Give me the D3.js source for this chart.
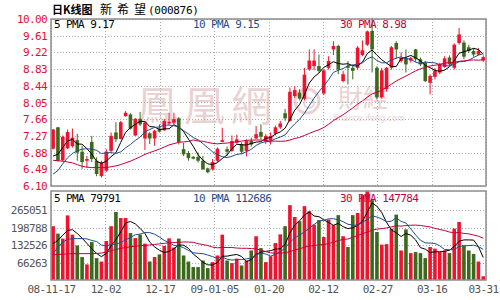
<!DOCTYPE html>
<html>
<head>
<meta charset="utf-8">
<script src="https://cdn.jsdelivr.net/npm/d3@7"></script>
<style>
body { margin: 0; background: #fff; }
svg text { font-family: "DejaVu Sans Mono", monospace; }
</style>
</head>
<body>
<script>
// trading days 2008-11-17 .. 2009-03-31
const dates = [
  '08-11-17','08-11-18','08-11-19','08-11-20','08-11-21','08-11-24','08-11-25','08-11-26','08-11-27','08-11-28',
  '08-12-01','08-12-02','08-12-03','08-12-04','08-12-05','08-12-08','08-12-09','08-12-10','08-12-11','08-12-12',
  '08-12-15','08-12-16','08-12-17','08-12-18','08-12-19','08-12-22','08-12-23','08-12-24','08-12-25','08-12-26',
  '08-12-29','08-12-30','08-12-31','09-01-05','09-01-06','09-01-07','09-01-08','09-01-09','09-01-12','09-01-13',
  '09-01-14','09-01-15','09-01-16','09-01-19','09-01-20','09-01-21','09-01-22','09-01-23','09-02-02','09-02-03',
  '09-02-04','09-02-05','09-02-06','09-02-09','09-02-10','09-02-11','09-02-12','09-02-13','09-02-16','09-02-17',
  '09-02-18','09-02-19','09-02-20','09-02-23','09-02-24','09-02-25','09-02-26','09-02-27','09-03-02','09-03-03',
  '09-03-04','09-03-05','09-03-06','09-03-09','09-03-10','09-03-11','09-03-12','09-03-13','09-03-16','09-03-17',
  '09-03-18','09-03-19','09-03-20','09-03-23','09-03-24','09-03-25','09-03-26','09-03-27','09-03-30','09-03-31'
]

const open = [6.97,7.47,6.70,6.98,7.03,7.17,6.90,6.69,7.13,6.69, 6.33,6.46,6.92,7.35,7.20,7.73,7.77,7.28,7.67,7.21,
  7.33,7.21,7.44,7.40,7.56,7.58,7.68,6.96,6.87,6.78, 6.78,6.69,6.51,6.49,6.69,7.13,6.96,6.92,7.11,7.08,
  6.92,7.15,7.21,7.36,7.14,7.17,7.32,7.47,7.80,7.62, 8.20,8.28,8.14,8.82,8.90,8.90,8.26,8.86,9.29,9.37,
  8.55,8.90,8.86,8.86,9.16,9.40,9.72,8.86,8.17,8.36, 8.86,9.44,9.02,9.09,9.03,9.29,9.06,8.98,8.51,8.65,
  8.75,8.88,9.10,8.86,9.44,9.45,9.34,9.25,9.17,9.03]
const high = [7.43,7.48,7.28,7.42,7.44,7.32,7.04,6.80,7.27,6.77, 6.69,6.96,7.35,7.59,7.62,7.85,7.80,7.69,7.83,7.62,
  7.36,7.41,7.54,7.67,7.81,7.81,7.71,7.11,6.92,6.80, 6.88,6.80,6.53,6.73,7.00,7.46,7.02,7.28,7.30,7.12,
  7.19,7.23,7.50,7.54,7.31,7.35,7.51,7.62,7.90,8.40, 8.43,8.36,8.86,9.29,9.29,9.17,8.83,9.13,9.48,9.40,
  8.79,9.02,8.94,9.37,9.50,9.73,10.03,8.90,8.86,8.88, 9.37,9.48,9.22,9.29,9.12,9.30,9.10,9.02,8.71,8.86,
  8.98,9.13,9.15,9.43,9.79,9.50,9.40,9.32,9.32,9.15]
const low = [6.95,6.67,6.67,6.96,7.00,6.69,6.50,6.53,6.66,6.33, 6.30,6.43,6.88,7.13,7.19,7.72,7.42,7.27,7.50,6.94,
  7.08,7.04,7.35,7.39,7.52,7.54,7.07,6.80,6.69,6.72, 6.65,6.48,6.40,6.46,6.66,7.12,6.80,6.90,7.09,6.84,
  6.79,7.02,7.19,7.19,7.08,7.07,7.28,7.43,7.62,7.60, 8.16,8.10,8.10,8.79,8.80,8.75,8.22,8.82,9.16,8.71,
  8.52,8.47,8.59,8.82,9.13,9.37,8.75,8.12,8.14,8.30, 8.82,9.07,8.98,8.75,8.98,9.00,8.90,8.53,8.24,8.59,
  8.71,8.86,8.90,8.82,9.40,9.06,9.21,9.12,9.15,9.00]
const close = [7.42,6.69,7.25,7.36,7.23,6.88,6.66,6.73,6.73,6.38, 6.65,6.90,7.27,7.19,7.59,7.81,7.44,7.67,7.54,7.58,
  7.21,7.39,7.37,7.62,7.60,7.66,7.13,6.84,6.75,6.74, 6.69,6.49,6.42,6.66,6.97,7.17,6.90,7.15,7.19,6.90,
  7.15,7.07,7.31,7.25,7.27,7.27,7.47,7.56,7.68,8.30, 8.34,8.14,8.70,9.03,9.03,8.79,8.80,9.02,9.37,8.82,
  8.71,8.86,8.79,9.33,9.27,9.71,9.29,8.17,8.80,8.86, 9.34,9.29,9.09,8.94,9.09,9.06,8.94,8.55,8.67,8.79,
  8.94,9.08,8.94,9.40,9.64,9.12,9.25,9.17,9.25,9.11]
// volume, in thousands
const volume = [204,176,157,245,172,131,87,59,144,83, 70,148,204,258,235,235,178,159,172,138,
  70,87,97,129,158,123,157,93,70,49, 49,74,45,68,93,172,74,64,81,55,
  74,112,166,121,68,90,140,173,204,284, 239,223,280,261,210,227,163,229,208,246,
  166,125,246,254,322,337,303,182,134,136, 195,248,112,192,102,106,102,83,125,119,
  106,112,102,195,220,131,112,99,70,14]

// moving-average values before a full window exists
const ma5Head = [6.80, 6.84, 7.00, 7.15]
const ma10Head = [6.38, 6.46, 6.62, 6.76, 6.86, 6.92, 6.96, 6.97, 6.96]
const ma30Head = [6.70,6.69,6.68,6.66,6.64,6.60,6.56,6.54,6.53,6.53,6.53,6.53,6.55,6.57,6.60,
  6.64,6.68,6.73,6.78,6.84,6.88,6.92,6.96,7.01,7.06,7.09,7.12,7.13,7.14]
const vma5Head = [138, 150, 170, 188]
const vma10Head = [100, 125, 144, 154, 157, 157, 157, 156, 150]
const vma30Head = [96,97,98,99,100,100,100,100,100,101,102,106,111,116,120,
  123,126,128,130,131,133,135,137,139,141,142,143,144,144]

const priceTicks = [6.10, 6.49, 6.88, 7.27, 7.66, 8.05, 8.44, 8.83, 9.22, 9.61, 10.00]
const volTicks = [66263, 132526, 198788, 265051]
const dateLabels = ['08-11-17','12-02','12-17','09-01-05','01-20','02-12','02-27','03-16','03-31']
const priceLegend = ['5 PMA 9.17', '10 PMA 9.15', '30 PMA 8.98']
const volLegend = ['5 PMA 79791', '10 PMA 112686', '30 PMA 147784']

let width = 500
let height = 300
let left = 51
let right = 486
let pTop = 19
let pBottom = 186
let vTop = 191
let vBottom = 280

let upColor = '#f0122e'
let downColor = '#3c6a1c'
let maColors = ['#000000', '#1f4e8c', '#c4003f']

let svg = d3.select('body').append('svg')
    .attr('width', width)
    .attr('height', height)

let xScale = d3.scaleLinear()
    .domain([0, dates.length])
    .range([left, right])

let yScale = d3.scaleLinear()
    .domain([6.10, 10.00])
    .range([pBottom, pTop])

let vScale = d3.scaleLinear()
    .domain([0, 337.5])
    .range([vBottom, vTop])

let bw = 3.6
let cx = i => xScale(i) + 0.3 + bw / 2
let gridX = d3.range(dateLabels.length).map(k => k * dates.length / (dateLabels.length - 1))

let movingAvg = (vals, n, head) => vals.map((v, i) =>
    i < n - 1 ? head[i] : d3.mean(vals.slice(i - n + 1, i + 1)))

// title
let title = svg.append('text')
    .attr('x', 52)
    .attr('y', 14)
    .style('font-family', '"Noto Sans CJK SC"')
    .style('font-size', '11px')
title.append('tspan').style('font-weight', 'bold').text('日K线图')
title.append('tspan').attr('x', 100).style('font-size', '12px').attr('letter-spacing', 5).text('新希望')
title.append('tspan').attr('x', 148).style('font-family', '"DejaVu Sans Mono"')
    .attr('letter-spacing', -0.3).text('(000876)')

// watermark
let wm = svg.append('g').attr('fill', '#ead2d2')
wm.append('text')
    .attr('x', 137).attr('y', 121)
    .style('font-family', '"Noto Sans CJK TC"')
    .style('font-size', '41px')
    .attr('letter-spacing', 6)
    .text('鳳凰網')
wm.append('circle')
    .attr('cx', 307).attr('cy', 101).attr('r', 12)
    .attr('fill', 'none').attr('stroke', '#ead2d2').attr('stroke-width', 3)
wm.append('circle')
    .attr('cx', 309).attr('cy', 103).attr('r', 5)
    .attr('fill', 'none').attr('stroke', '#ead2d2').attr('stroke-width', 2)
wm.append('text')
    .attr('x', 338).attr('y', 107)
    .style('font-family', '"Noto Sans CJK TC"')
    .style('font-size', '25px')
    .text('財經')
wm.append('text')
    .attr('x', 333).attr('y', 121)
    .style('font-family', '"DejaVu Sans"')
    .style('font-size', '8px')
    .text('finance.ifeng.com')

// grids
let drawGrid = (top, bottom, yS, ticks) => {
    let g = svg.append('g').attr('class', 'grid')
    g.selectAll('.hg')
        .data(ticks)
        .enter()
        .append('line')
        .attr('x1', left).attr('x2', right)
        .attr('y1', d => Math.round(yS(d)) + 0.5)
        .attr('y2', d => Math.round(yS(d)) + 0.5)
    g.selectAll('.vg')
        .data(gridX)
        .enter()
        .append('line')
        .attr('x1', d => Math.round(xScale(d)) + 0.5)
        .attr('x2', d => Math.round(xScale(d)) + 0.5)
        .attr('y1', top).attr('y2', bottom)
    g.selectAll('line')
        .attr('stroke', '#aaaaaa')
        .attr('stroke-dasharray', '1,2')
}
drawGrid(pTop, pBottom, yScale, priceTicks)
drawGrid(vTop, vBottom, vScale, volTicks.map(v => v / 1000))

// candles
let candles = svg.append('g')
candles.selectAll('line')
    .data(dates)
    .enter()
    .append('line')
    .attr('x1', (d, i) => cx(i))
    .attr('x2', (d, i) => cx(i))
    .attr('y1', (d, i) => yScale(high[i]))
    .attr('y2', (d, i) => yScale(low[i]))
    .attr('stroke', (d, i) => close[i] >= open[i] ? upColor : downColor)
    .attr('stroke-width', 1)
candles.selectAll('rect')
    .data(dates)
    .enter()
    .append('rect')
    .attr('x', (d, i) => xScale(i) + 0.3)
    .attr('width', bw)
    .attr('y', (d, i) => yScale(Math.max(open[i], close[i])))
    .attr('height', (d, i) => Math.max(1, Math.abs(yScale(open[i]) - yScale(close[i]))))
    .attr('fill', (d, i) => close[i] >= open[i] ? upColor : downColor)

// volume bars
svg.append('g')
    .selectAll('rect')
    .data(volume)
    .enter()
    .append('rect')
    .attr('x', (d, i) => xScale(i) + 0.3)
    .attr('width', bw)
    .attr('y', d => vScale(d))
    .attr('height', d => vBottom - vScale(d))
    .attr('fill', (d, i) => close[i] >= open[i] ? upColor : downColor)

// moving averages
let line = yS => d3.line()
    .x((d, i) => cx(i))
    .y(d => yS(d))
let priceMAs = [movingAvg(close, 5, ma5Head), movingAvg(close, 10, ma10Head), movingAvg(close, 30, ma30Head)]
let volMAs = [movingAvg(volume, 5, vma5Head), movingAvg(volume, 10, vma10Head), movingAvg(volume, 30, vma30Head)]
priceMAs.forEach((m, k) => {
    svg.append('path')
        .attr('d', line(yScale)(m))
        .attr('fill', 'none')
        .attr('stroke', maColors[k])
        .attr('stroke-width', 1)
})
volMAs.forEach((m, k) => {
    svg.append('path')
        .attr('d', line(vScale)(m))
        .attr('fill', 'none')
        .attr('stroke', maColors[k])
        .attr('stroke-width', 1)
})

// frames
svg.append('rect')
    .attr('x', left).attr('y', pTop)
    .attr('width', right - left).attr('height', pBottom - pTop)
    .attr('fill', 'none').attr('stroke', '#8c8c8c').attr('stroke-width', 1.5)
svg.append('rect')
    .attr('x', left).attr('y', vTop)
    .attr('width', right - left).attr('height', vBottom - vTop)
    .attr('fill', 'none').attr('stroke', '#8c8c8c').attr('stroke-width', 1.5)

// legends
let legendX = [54, 193, 340]
let legends = (labels, y) => {
    svg.append('g')
        .selectAll('text')
        .data(labels)
        .enter()
        .append('text')
        .attr('x', (d, i) => legendX[i])
        .attr('y', y)
        .attr('fill', (d, i) => i === 0 ? '#000' : maColors[i])
        .attr('letter-spacing', -0.6)
        .style('font-size', '11px')
        .text(d => d)
}
legends(priceLegend, 28)
legends(volLegend, 202)

// axes
let priceAxis = d3.axisLeft(yScale)
    .tickValues(priceTicks)
    .tickFormat(d3.format('.2f'))
    .tickSize(0)
    .tickPadding(3)
let gp = svg.append('g')
    .attr('transform', 'translate(' + (left - 1) + ',0)')
    .call(priceAxis)
gp.select('.domain').remove()
gp.selectAll('text')
    .attr('fill', '#e8102c')
    .attr('letter-spacing', -0.6)
    .style('font-size', '11px')
    .style('font-family', '"DejaVu Sans Mono"')

let volAxis = d3.axisLeft(vScale)
    .tickValues(volTicks.map(v => v / 1000))
    .tickFormat((d, i) => volTicks[i])
    .tickSize(0)
    .tickPadding(3)
let gv = svg.append('g')
    .attr('transform', 'translate(' + (left - 1) + ',0)')
    .call(volAxis)
gv.select('.domain').remove()
gv.selectAll('text')
    .attr('fill', '#555')
    .attr('letter-spacing', -0.6)
    .style('font-size', '11px')
    .style('font-family', '"DejaVu Sans Mono"')

let dateAxis = d3.axisBottom(xScale)
    .tickValues(gridX)
    .tickFormat((d, i) => dateLabels[i])
    .tickSize(0)
    .tickPadding(5)
let gd = svg.append('g')
    .attr('transform', 'translate(0,' + vBottom + ')')
    .call(dateAxis)
gd.select('.domain').remove()
gd.selectAll('text')
    .attr('fill', '#555')
    .attr('letter-spacing', -0.6)
    .style('font-size', '11px')
    .style('font-family', '"DejaVu Sans Mono"')
    .attr('dx', (d, i) => i === dateLabels.length - 1 ? -3 : 0)
</script>
</body>
</html>
